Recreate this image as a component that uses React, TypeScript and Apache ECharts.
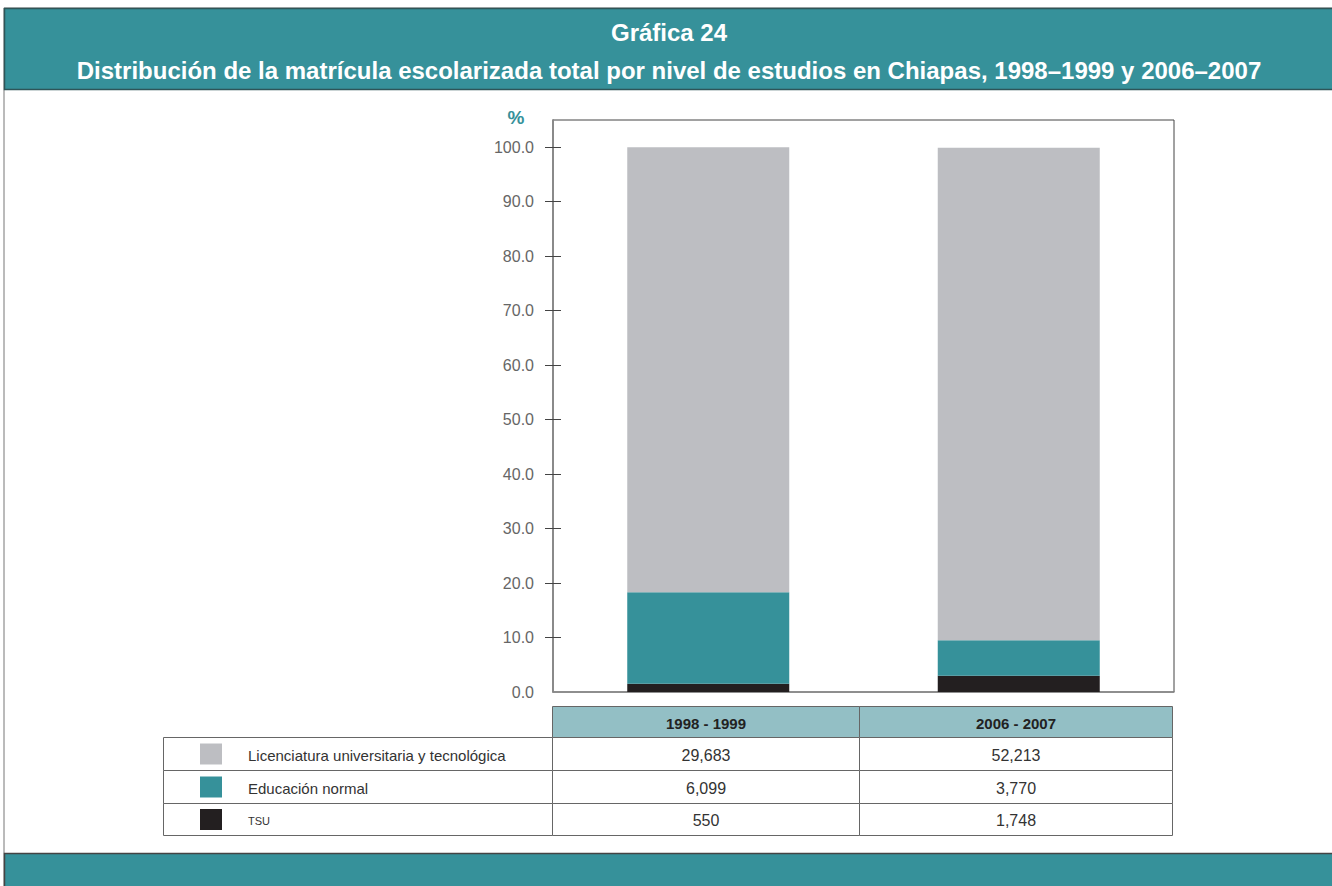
import React, { useEffect, useRef } from "react";
import * as echarts from "echarts";

const titleLine1 = "Gráfica 24";
const titleLine2 = "Distribución de la matrícula escolarizada total por nivel de estudios en Chiapas, 1998–1999 y 2006–2007";
const categories = ["1998 - 1999", "2006 - 2007"];
const seriesNames = ["Licenciatura universitaria y tecnológica", "Educación normal", "TSU"];
const licCounts = [29683, 52213];
const normalCounts = [6099, 3770];
const tsuCounts = [550, 1748];
const licPct = [81.7, 90.4];
const normalPct = [16.8, 6.5];
const tsuPct = [1.5, 3.0];
const yLabelValues = [0, 10, 20, 30, 40, 50, 60, 70, 80, 90, 100];
const yTickValues = [10, 20, 30, 40, 50, 60, 70, 80, 90, 100];

const GRAY = "#BDBEC2";
const TEAL = "#36919A";
const BLACK = "#231F20";
const HEAD = "#93BFC5";
const FONT = "'Liberation Sans Narrow', 'Liberation Sans', Arial, sans-serif";

export default function App() {
  const ref = useRef<HTMLDivElement>(null);
  useEffect(() => {
    document.body.style.margin = "0";
    const chart = echarts.init(ref.current!, undefined, { renderer: "svg" });
    const colors = [GRAY, TEAL, BLACK];
    const counts = [licCounts, normalCounts, tsuCounts];
    const graphic: any[] = [];
    // frame
    graphic.push({ type: "rect", shape: { x: 4, y: 8, width: 1340, height: 890 }, style: { fill: "none", stroke: "#777", lineWidth: 1 }, silent: true, z: 0 });
    graphic.push({ type: "rect", shape: { x: 4.5, y: 8.5, width: 1340, height: 81 }, style: { fill: TEAL, stroke: "#2E5558", lineWidth: 1.5 } });
    graphic.push({ type: "rect", shape: { x: 4.5, y: 853.5, width: 1340, height: 40 }, style: { fill: TEAL, stroke: "#444", lineWidth: 1.5 } });
    graphic.push({ type: "text", x: 669, y: 32, style: { text: titleLine1, fill: "#fff", font: `bold 24px ${FONT}`, align: "center", verticalAlign: "middle" } });
    graphic.push({ type: "text", x: 669, y: 70, style: { text: titleLine2, fill: "#fff", font: `bold 24px ${FONT}`, align: "center", verticalAlign: "middle" } });
    graphic.push({ type: "text", x: 516, y: 117, style: { text: "%", fill: TEAL, font: `bold 19px ${FONT}`, align: "center", verticalAlign: "middle" } });
    // table
    const colX = [552.5, 859.5, 1172.5];
    const headY = 706.5, rowY = [737.5, 770.5, 803.5, 835.5];
    const lineColor = "#666";
    categories.forEach((c, i) => {
      graphic.push({ type: "rect", shape: { x: colX[i], y: headY, width: colX[i + 1] - colX[i], height: rowY[0] - headY }, style: { fill: HEAD, stroke: lineColor, lineWidth: 1 } });
      graphic.push({ type: "text", x: (colX[i] + colX[i + 1]) / 2, y: (headY + rowY[0]) / 2 + 1, style: { text: c, fill: "#222", font: `bold 15px ${FONT}`, align: "center", verticalAlign: "middle" } });
    });
    seriesNames.forEach((n, r) => {
      const y0 = rowY[r], y1 = rowY[r + 1];
      const cy = (y0 + y1) / 2;
      graphic.push({ type: "rect", shape: { x: 163.5, y: y0, width: colX[0] - 163.5, height: y1 - y0 }, style: { fill: "#fff", stroke: lineColor, lineWidth: 1 } });
      graphic.push({ type: "rect", shape: { x: 200, y: cy - 10.5, width: 22, height: 21 }, style: { fill: colors[r] } });
      graphic.push({ type: "text", x: 248, y: cy + 1, style: { text: n, fill: "#333", font: `${n === "TSU" ? 11 : 15}px ${FONT}`, align: "left", verticalAlign: "middle" } });
      categories.forEach((c, i) => {
        graphic.push({ type: "rect", shape: { x: colX[i], y: y0, width: colX[i + 1] - colX[i], height: y1 - y0 }, style: { fill: "#fff", stroke: lineColor, lineWidth: 1 } });
        graphic.push({ type: "text", x: (colX[i] + colX[i + 1]) / 2, y: cy + 1, style: { text: counts[r][i].toLocaleString("en-US"), fill: "#333", font: `16px ${FONT}`, align: "center", verticalAlign: "middle" } });
      });
    });

    const pcts = [licPct, normalPct, tsuPct];
    const series = [2, 1, 0].map((k) => ({
      type: "bar",
      name: seriesNames[k],
      stack: "total",
      data: pcts[k],
      barWidth: 162,
      itemStyle: { color: colors[k] },
      silent: true,
    }));

    const yBase = {
      type: "value",
      min: 0,
      max: 105,
      splitLine: { show: false },
      axisLine: { show: true, lineStyle: { color: "#888", width: 1.5 } },
    };
    chart.setOption({
      animation: false,
      grid: { left: 553, top: 120, right: 158, bottom: 194, show: true, borderColor: "#444", borderWidth: 1, backgroundColor: "transparent" },
      xAxis: {
        type: "category",
        data: categories,
        axisLine: { show: true, lineStyle: { color: "#888", width: 1.5 } },
        axisTick: { show: false },
        axisLabel: { show: false },
      },
      yAxis: [
        {
          ...yBase,
          axisTick: { show: true, length: 8, inside: false, lineStyle: { color: "#444" }, customValues: yTickValues },
          axisLabel: { show: true, customValues: yLabelValues, formatter: (v: number) => v.toFixed(1), color: "#666", fontSize: 16, fontFamily: FONT, margin: 19 },
        },
        {
          ...yBase,
          position: "left",
          axisTick: { show: true, length: 8, inside: true, lineStyle: { color: "#444" }, customValues: yTickValues },
          axisLabel: { show: false },
        },
      ],
      series,
      graphic,
    });
    return () => chart.dispose();
  }, []);
  return <div ref={ref} style={{ position: "fixed", left: 0, top: 0, width: 1332, height: 886, background: "#fff" }} />;
}
